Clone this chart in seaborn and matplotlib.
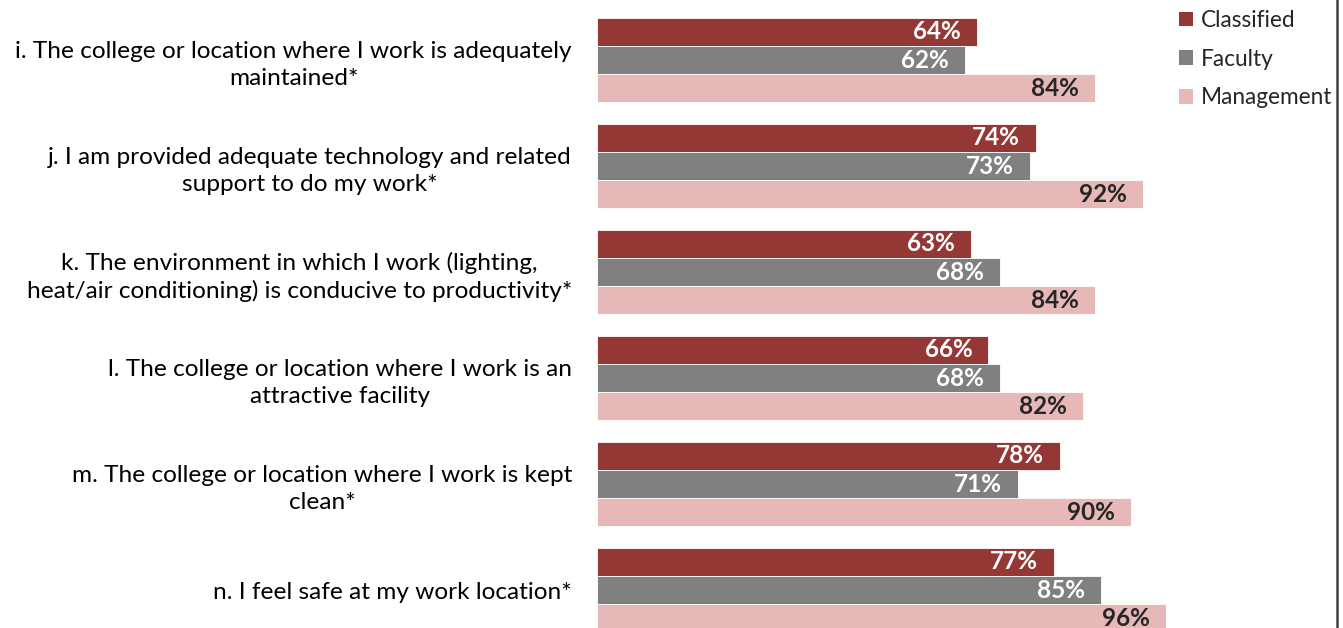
import numpy as np
import pandas as pd
import matplotlib
matplotlib.use("Agg")
import matplotlib.pyplot as plt
import seaborn as sns

# ── data ─────────────────────────────────────
CATEGORIES = [
    "i. The college or location where I work is adequately\nmaintained*",
    "j. I am provided adequate technology and related\nsupport to do my work*",
    "k. The environment in which I work (lighting,\nheat/air conditioning) is conducive to productivity*",
    "l. The college or location where I work is an\nattractive facility",
    "m. The college or location where I work is kept\nclean*",
    "n. I feel safe at my work location*",
]
GROUPS     = ["Classified", "Faculty", "Management"]
CLASSIFIED = [64, 74, 63, 66, 78, 77]
FACULTY    = [62, 73, 68, 68, 71, 85]
MANAGEMENT = [84, 92, 84, 82, 90, 96]

COLORS     = ["#953735", "#808080", "#E6B9B8"]
LABEL_CLR  = ["white", "white", "#262626"]

df = pd.DataFrame({
    "question": CATEGORIES * 3,
    "group": np.repeat(GROUPS, len(CATEGORIES)),
    "value": np.array(CLASSIFIED + FACULTY + MANAGEMENT) / 100.0,
})

sns.set_theme(style="white")
plt.rcParams["font.family"] = ["Lato", "DejaVu Sans"]

W, H = 1343, 628
fig = plt.figure(figsize=(W / 100, H / 100), dpi=100)
ax = fig.add_axes([597 / W, 0, (1190 - 597) / W, 1])

sns.barplot(data=df, y="question", x="value", hue="group", order=CATEGORIES,
            hue_order=GROUPS, palette=COLORS, width=0.8, saturation=1,
            edgecolor="white", linewidth=0.6, orient="h", ax=ax)

ax.set_xlim(0, 1)
ax.set_ylim(5.358, -0.566)
ax.set_xlabel(""); ax.set_ylabel("")
ax.set_xticks([])
for s in ax.spines.values():
    s.set_visible(False)
ax.tick_params(axis="y", length=0, pad=18, labelsize=17.6, labelcolor="black")
for t in ax.get_yticklabels():
    t.set_multialignment("center")
    t.set_linespacing(1.35)

# value labels, right-aligned inside the bar end
for cont, clr in zip(ax.containers, LABEL_CLR):
    for p in cont:
        w = p.get_width()
        ax.annotate(f"{w * 100:.0f}%", (w, p.get_y() + p.get_height() / 2),
                    xytext=(-11.5, 0), textcoords="offset points",
                    ha="right", va="center", color=clr,
                    fontsize=17.5, fontweight="bold")

leg = ax.legend(loc="upper left", bbox_to_anchor=(1179 / W, 1.0 - 10 / H),
                bbox_transform=fig.transFigure, frameon=False,
                fontsize=16.3, handlelength=0.62, handleheight=0.62,
                handletextpad=0.35, labelspacing=0.78, borderaxespad=0,
                borderpad=0)
for h in leg.legend_handles:
    h.set_edgecolor("none")

# right frame line
fig.add_artist(plt.Line2D([1337 / W, 1337 / W], [0, 1], color="#404040",
                          linewidth=1.8, transform=fig.transFigure))

fig.savefig("out.png", dpi=100)
